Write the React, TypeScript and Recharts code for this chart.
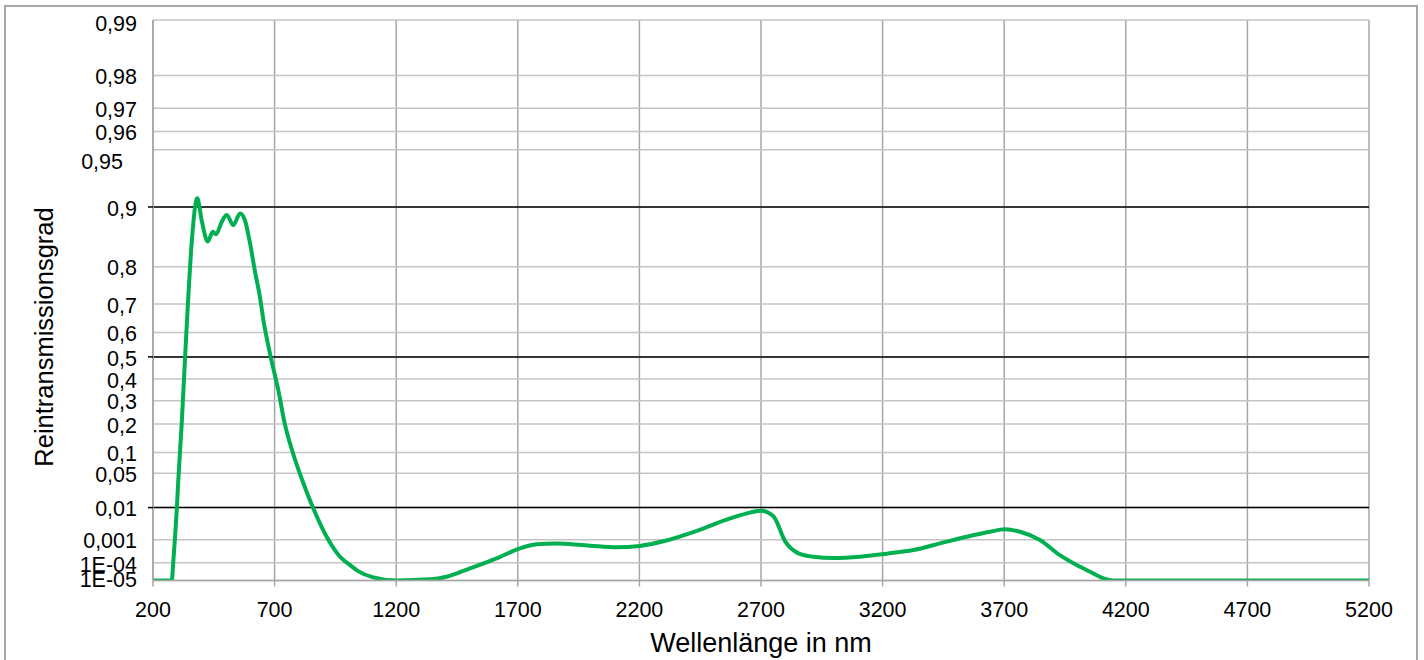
import React from "react";
import {
  CartesianGrid,
  Line,
  LineChart,
  ReferenceLine,
  XAxis,
  YAxis,
} from "recharts";

// wavelength in nm
const wavelength = [
  200, 277, 284, 298, 304, 318, 332, 359, 373, 382, 400, 425, 446,
  459, 483, 503, 530, 558, 578, 599, 619, 640, 654, 684, 715, 742, 776, 818,
  859, 914, 969, 1010, 1045, 1106, 1202, 1339, 1407, 1503, 1613, 1709, 1778,
  1859, 1997, 2107, 2202, 2298, 2436, 2573, 2655, 2700, 2751, 2800, 2854, 2916,
  2998, 3107, 3217, 3326, 3436, 3546, 3642, 3703, 3765, 3847, 3929, 3998, 4053,
  4108, 4149, 5200,
];

// Reintransmissionsgrad (0..1)
const transmission = [
  1e-5, 1e-5, 1.4e-4, 0.0096, 0.038, 0.2, 0.5, 0.847, 0.9, 0.91,
  0.883, 0.85, 0.866, 0.862, 0.881, 0.89, 0.876, 0.892, 0.883, 0.847, 0.79,
  0.72, 0.646, 0.5, 0.35, 0.2, 0.097, 0.034, 0.0096, 0.0013, 1.95e-4, 7.6e-5,
  3.5e-5, 1.56e-5, 1e-5, 1.18e-5, 1.7e-5, 5.1e-5, 1.64e-4, 4.6e-4, 6.7e-4,
  7.3e-4, 5.9e-4, 5.1e-4, 5.8e-4, 8.8e-4, 0.0021, 0.0051, 0.0074, 0.0083,
  0.0059, 8.5e-4, 2.8e-4, 1.95e-4, 1.7e-4, 1.95e-4, 2.7e-4, 3.9e-4, 7.3e-4,
  0.0013, 0.00195, 0.00235, 0.00195, 9.9e-4, 2.3e-4, 7.6e-5, 3.3e-5, 1.35e-5,
  1e-5, 1e-5,
];

const xTicks = [200, 700, 1200, 1700, 2200, 2700, 3200, 3700, 4200, 4700, 5200];

const yTickValues = [
  0.99, 0.98, 0.97, 0.96, 0.95, 0.9, 0.8, 0.7, 0.6, 0.5, 0.4, 0.3, 0.2, 0.1,
  0.05, 0.01, 0.001, 0.0001, 0.00001,
];
const yTickLabels = [
  "0,99", "0,98", "0,97", "0,96", "0,95", "0,9", "0,8", "0,7", "0,6", "0,5",
  "0,4", "0,3", "0,2", "0,1", "0,05", "0,01", "0,001", "1E-04", "1E-05",
];
const blackLines = [0.9, 0.5, 0.01];

// double-log scale: -log10(log10(1/T))
const toY = (t: number) => -Math.log10(-Math.log10(t));

const data = wavelength.map((wl, i) => ({ wl, t: toY(transmission[i]) }));
const yTicks = yTickValues.map(toY);

const FONT = "'Liberation Sans', Arial, sans-serif";

const YTick = (props: any) => {
  const { x, y, payload } = props;
  const i = yTicks.findIndex((v) => Math.abs(v - payload.value) < 1e-6);
  if (i < 0) return null;
  const label = yTickLabels[i];
  let dx = 0;
  let dy = 1;
  if (label === "0,99") dy = 3;
  if (label === "0,95") {
    dy = 12;
    dx = -14;
  }
  if (label === "1E-04") dy = 2;
  if (label === "1E-05") dy = -1;
  const isBlack = blackLines.includes(yTickValues[i]);
  return (
    <g>
      {isBlack && (
        <line x1={x + 11} x2={x + 16} y1={y} y2={y} stroke="#000" strokeWidth={1.5} />
      )}
      <text
        x={x + dx}
        y={y + dy}
        dy="0.355em"
        textAnchor="end"
        fontSize={21.5}
        fontFamily={FONT}
        fill="#000"
      >
        {label}
      </text>
    </g>
  );
};

export default function App() {
  return (
    <div
      style={{
        position: "absolute",
        left: 0,
        top: 0,
        width: 1424,
        height: 660,
        overflow: "hidden",
        background: "#fff",
        fontFamily: FONT,
      }}
    >
      <div
        style={{
          position: "absolute",
          left: 4,
          top: 5,
          width: 1410,
          height: 680,
          border: "2px solid #a6a6a6",
        }}
      />
      <LineChart
        width={1424}
        height={660}
        data={data}
        margin={{ top: 20, right: 55, bottom: 0, left: 0 }}
        style={{ position: "absolute", left: 0, top: 0 }}
      >
        <CartesianGrid horizontal={false} stroke="#a6a6a6" strokeWidth={1.5} />
        <CartesianGrid vertical={false} stroke="#c4c4c4" strokeWidth={1.5} />
        {blackLines.map((v) => (
          <ReferenceLine key={v} y={toY(v)} stroke="#000" strokeWidth={1.5} />
        ))}
        <XAxis
          type="number"
          dataKey="wl"
          domain={[200, 5200]}
          ticks={xTicks}
          interval={0}
          height={79.5}
          axisLine={{ stroke: "#a6a6a6", strokeWidth: 1.5 }}
          tickLine={{ stroke: "#a6a6a6", strokeWidth: 1.5 }}
          tickSize={6}
          tickMargin={15}
          tick={{ fontSize: 21.5, fill: "#000", fontFamily: FONT }}
        />
        <YAxis
          type="number"
          domain={[toY(0.00001), toY(0.99)]}
          ticks={yTicks}
          interval={0}
          allowDataOverflow
          width={153}
          axisLine={{ stroke: "#a6a6a6", strokeWidth: 1.5 }}
          tickLine={false}
          tickSize={0}
          tickMargin={16}
          tick={<YTick />}
        />
        <Line
          type="monotone"
          dataKey="t"
          stroke="#00b050"
          strokeWidth={4}
          dot={false}
          activeDot={false}
          isAnimationActive={false}
        />
      </LineChart>
      <div
        style={{
          position: "absolute",
          left: 761,
          top: 630,
          transform: "translateX(-50%)",
          fontSize: 27,
          lineHeight: "27px",
          whiteSpace: "nowrap",
          color: "#000",
        }}
      >
        Wellenlänge in nm
      </div>
      <div
        style={{
          position: "absolute",
          left: 44,
          top: 337,
          transform: "translate(-50%, -50%) rotate(-90deg)",
          fontSize: 25.5,
          lineHeight: "26px",
          whiteSpace: "nowrap",
          color: "#000",
        }}
      >
        Reintransmissionsgrad
      </div>
    </div>
  );
}
